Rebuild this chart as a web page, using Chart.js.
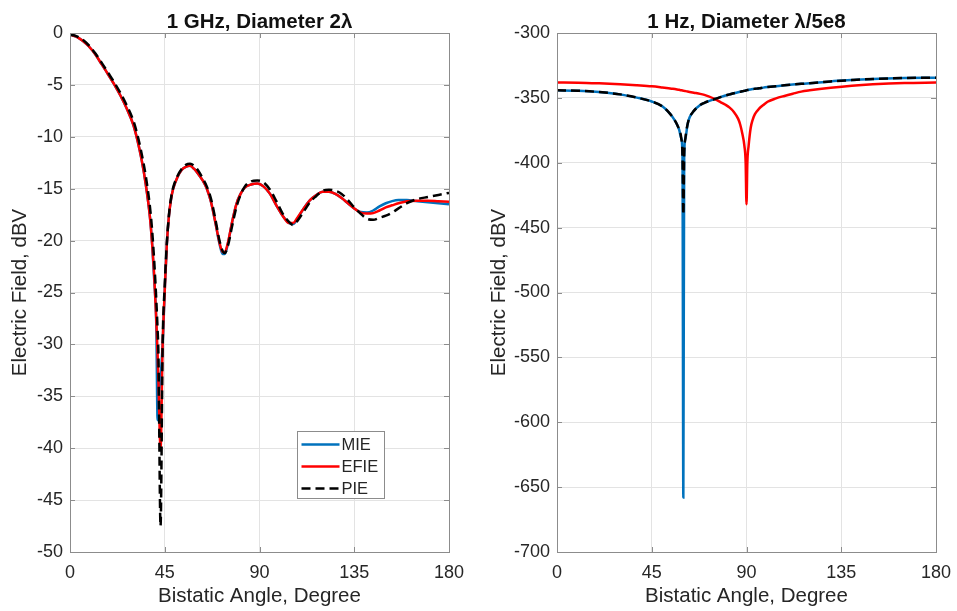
<!DOCTYPE html>
<html>
<head>
<meta charset="utf-8">
<script src="https://cdn.jsdelivr.net/npm/chart.js@4.4.1/dist/chart.umd.min.js"></script>
<style>
  html, body { margin: 0; padding: 0; background: #fff; }
  #wrap { position: relative; width: 957px; height: 611px; }
  #leftBox { position: absolute; left: 0; top: 0; width: 478px; height: 611px; }
  #rightBox { position: absolute; left: 479px; top: 0; width: 478px; height: 611px; }
</style>
</head>
<body>
<div id="wrap">
  <div id="leftBox"><canvas id="chartLeft" width="478" height="611"></canvas></div>
  <div id="rightBox"><canvas id="chartRight" width="478" height="611"></canvas></div>
</div>
<script>
// 1 GHz sphere, diameter 2 lambda
const angleLeft = [0, 3, 6, 9, 12, 15, 18, 21, 24, 27, 30, 32, 34, 36, 38, 39, 40, 41, 41.6, 42, 43, 44, 45, 46, 47, 48, 49, 51, 53, 55, 57, 59, 61, 63, 65, 67, 69, 71, 72.5, 73.5, 75, 77, 79, 81, 83, 86, 89, 92, 95, 98, 101, 104, 106, 108, 111, 114, 117, 120, 123, 126, 129, 132, 135, 138, 141, 144, 147, 150, 153, 156, 160, 165, 170, 175, 180];
const mieLeft = [-0.15, -0.35, -0.75, -1.3, -2.05, -3.0, -3.95, -4.95, -6.05, -7.3, -8.8, -10.3, -12.2, -14.6, -17.8, -20.3, -23.8, -28.3, -37.3, -35.2, -33.2, -30.0, -24.8, -20.3, -17.6, -16.0, -15.0, -13.9, -13.2, -12.9, -12.8, -13.1, -13.6, -14.2, -15.0, -16.3, -18.2, -20.3, -21.3, -21.3, -20.3, -18.2, -16.5, -15.5, -14.9, -14.6, -14.5, -14.8, -15.5, -16.6, -17.6, -18.3, -18.4, -17.9, -16.9, -16.1, -15.6, -15.3, -15.3, -15.5, -15.9, -16.4, -16.9, -17.25, -17.3, -17.1, -16.7, -16.4, -16.2, -16.1, -16.1, -16.2, -16.3, -16.4, -16.5];
const efieLeft = [-0.15, -0.35, -0.75, -1.3, -2.05, -3.0, -3.95, -4.95, -6.05, -7.3, -8.8, -10.3, -12.2, -14.6, -17.8, -20.3, -23.4, -27.7, -30.9, -33.5, -40.1, -30.0, -24.8, -20.3, -17.6, -16.0, -15.0, -13.9, -13.2, -12.9, -12.8, -13.1, -13.6, -14.2, -15.0, -16.3, -18.2, -20.2, -21.1, -21.1, -20.2, -18.2, -16.5, -15.5, -14.9, -14.6, -14.5, -14.8, -15.5, -16.6, -17.6, -18.3, -18.3, -17.8, -16.9, -16.1, -15.6, -15.3, -15.3, -15.5, -15.9, -16.4, -16.9, -17.3, -17.4, -17.35, -17.1, -16.8, -16.6, -16.4, -16.2, -16.15, -16.15, -16.2, -16.25];
const pieLeft = [-0.15, -0.3, -0.65, -1.2, -1.95, -2.85, -3.8, -4.75, -5.8, -7.0, -8.4, -9.8, -11.6, -13.8, -16.8, -19.0, -22.0, -25.8, -28.6, -31.0, -47.5, -30.0, -24.3, -20.2, -17.5, -15.9, -14.9, -13.8, -13.1, -12.7, -12.6, -12.8, -13.3, -14.0, -14.8, -16.0, -17.9, -20.0, -21.0, -21.2, -20.5, -18.6, -16.8, -15.6, -14.8, -14.3, -14.2, -14.4, -15.1, -16.2, -17.4, -18.2, -18.5, -18.1, -17.2, -16.3, -15.7, -15.2, -15.1, -15.2, -15.5, -16.1, -16.8, -17.4, -17.9, -18.0, -17.8, -17.6, -17.3, -16.9, -16.4, -16.0, -15.8, -15.6, -15.4];

// 1 Hz sphere, diameter lambda/5e8
const angleRight = [0, 10, 20, 30, 38, 45, 50, 53, 55, 57, 58, 59, 59.6, 60, 60.4, 61, 62, 63, 65, 68, 70, 72, 75, 78, 80, 82, 84, 86, 87, 88, 89, 89.6, 90, 90.4, 91, 92, 93, 94, 96, 98, 100, 104, 108, 112, 116, 120, 130, 140, 150, 165, 180];
const mieRight = [-344.2, -344.5, -345.5, -347.3, -349.8, -352.8, -356.5, -361.0, -365.0, -370.5, -374.5, -381.0, -395.0, -658.0, -395.0, -381.0, -370.5, -365.0, -360.0, -355.5, -353.8, -352.5, -350.9, -349.2, -348.2, -347.3, -346.4, -345.6, -345.3, -344.9, -344.6, -344.4, -344.1, -344.0, -343.8, -343.5, -343.2, -343.0, -342.6, -342.1, -341.7, -341.0, -340.3, -339.7, -339.2, -338.7, -337.3, -336.3, -335.4, -334.7, -334.4];
const efieRight = [-338.2, -338.3, -338.8, -339.5, -340.3, -341.1, -342.0, -342.6, -343.0, -343.5, -343.8, -344.1, -344.3, -344.5, -344.6, -344.8, -345.1, -345.4, -346.0, -346.9, -347.7, -348.8, -350.9, -353.6, -355.3, -357.5, -360.8, -366.0, -370.5, -377.5, -387.0, -400.0, -432.0, -400.0, -387.0, -373.0, -366.5, -362.5, -358.3, -355.5, -353.0, -350.4, -348.5, -346.8, -345.2, -344.2, -342.2, -340.6, -339.5, -338.5, -338.2];
const pieRight = [-344.2, -344.5, -345.5, -347.3, -349.8, -352.8, -356.5, -361.0, -365.0, -370.5, -374.5, -381.0, -395.0, -440.0, -395.0, -381.0, -370.5, -365.0, -360.0, -355.5, -353.8, -352.5, -350.9, -349.2, -348.2, -347.3, -346.4, -345.6, -345.3, -344.9, -344.6, -344.4, -344.1, -344.0, -343.8, -343.5, -343.2, -343.0, -342.6, -342.1, -341.7, -341.0, -340.3, -339.7, -339.2, -338.7, -337.3, -336.3, -335.4, -334.7, -334.4];

const angleTicks = [0, 45, 90, 135, 180];
const seriesNames = ["MIE", "EFIE", "PIE"];
const seriesColors = ["#0072BD", "#FF0000", "#000000"];

const FONT = "'Liberation Sans', Arial, Helvetica, sans-serif";
const TEXT = "#262626";
const AXIS = "#8c8c8c";
const GRID = "#e3e3e3";

function toPoints(xs, ys) {
  return xs.map((x, i) => ({ x: x, y: ys[i] }));
}

// box, inward ticks, title and the inset legend, drawn over the plot area
const framePlugin = {
  id: "frame",
  afterDatasetsDraw(chart, args, opts) {
    const { ctx, chartArea: a, scales } = chart;
    ctx.save();

    ctx.strokeStyle = AXIS;
    ctx.lineWidth = 1;
    ctx.strokeRect(Math.round(a.left) + 0.5, Math.round(a.top) + 0.5,
      Math.round(a.right - a.left), Math.round(a.bottom - a.top));

    // MATLAB-style ticks pointing into the axes
    const tl = 5;
    ctx.beginPath();
    scales.x.ticks.forEach((t) => {
      const px = Math.round(scales.x.getPixelForValue(t.value)) + 0.5;
      ctx.moveTo(px, a.bottom); ctx.lineTo(px, a.bottom - tl);
      ctx.moveTo(px, a.top); ctx.lineTo(px, a.top + tl);
    });
    scales.y.ticks.forEach((t) => {
      const py = Math.round(scales.y.getPixelForValue(t.value)) + 0.5;
      ctx.moveTo(a.left, py); ctx.lineTo(a.left + tl, py);
      ctx.moveTo(a.right, py); ctx.lineTo(a.right - tl, py);
    });
    ctx.stroke();

    ctx.fillStyle = "#111";
    ctx.font = "bold 20.5px " + FONT;
    ctx.textAlign = "center";
    ctx.textBaseline = "alphabetic";
    ctx.fillText(opts.title, (a.left + a.right) / 2, 28);

    if (opts.legend) {
      const bx = a.right - 151.5, by = a.bottom - 120.5, bw = 87, bh = 67;
      ctx.fillStyle = "#fff";
      ctx.fillRect(bx, by, bw, bh);
      ctx.strokeStyle = "#8c8c8c";
      ctx.strokeRect(bx, by, bw, bh);
      ctx.font = "16.5px " + FONT;
      ctx.textAlign = "left";
      ctx.textBaseline = "middle";
      chart.data.datasets.forEach((ds, i) => {
        const ry = by + 13 + i * 22;
        ctx.strokeStyle = ds.borderColor;
        ctx.lineWidth = 2.5;
        ctx.setLineDash(ds.borderDash || []);
        ctx.beginPath();
        ctx.moveTo(bx + 4, ry);
        ctx.lineTo(bx + 42, ry);
        ctx.stroke();
        ctx.setLineDash([]);
        ctx.fillStyle = TEXT;
        ctx.fillText(ds.label, bx + 44, ry + 1);
      });
    }
    ctx.restore();
  },
};

function makeChart(id, cfg) {
  const datasets = [cfg.mie, cfg.efie, cfg.pie].map((vals, i) => ({
    label: seriesNames[i],
    data: toPoints(cfg.angle, vals),
    borderColor: seriesColors[i],
    backgroundColor: seriesColors[i],
    borderWidth: 2.5,
    borderDash: i === 2 ? [9, 5] : [],
    pointRadius: 0,
    fill: false,
    cubicInterpolationMode: "monotone",
    order: 3 - i, // PIE on top, then EFIE, then MIE
  }));

  return new Chart(document.getElementById(id).getContext("2d"), {
    type: "line",
    data: { datasets: datasets },
    plugins: [framePlugin],
    options: {
      responsive: false,
      animation: false,
      events: [],
      layout: { padding: { left: 0, right: cfg.padRight, top: 33, bottom: 0 } },
      plugins: {
        legend: { display: false },
        tooltip: { enabled: false },
        frame: { title: cfg.title, legend: cfg.legend },
      },
      scales: {
        x: {
          type: "linear",
          min: 0,
          max: 180,
          afterBuildTicks: (scale) => {
            scale.ticks = angleTicks.map((v) => ({ value: v }));
          },
          afterFit: (scale) => {
            scale.height = 59;
            // keep the end labels from pushing the plot area inward
            scale.paddingLeft = 0;
            scale.paddingRight = 0;
          },
          grid: { color: GRID, lineWidth: 1, drawTicks: false },
          border: { display: false },
          ticks: { color: TEXT, padding: 10, font: { family: FONT, size: 18 }, maxRotation: 0 },
          title: {
            display: true,
            text: "Bistatic Angle, Degree",
            color: TEXT,
            font: { family: FONT, size: 20.5 },
            padding: { top: 0, bottom: 2 },
          },
        },
        y: {
          type: "linear",
          min: cfg.yMin,
          max: cfg.yMax,
          ticks: { stepSize: cfg.yStep, color: TEXT, padding: 7, font: { family: FONT, size: 18 } },
          afterFit: (scale) => { scale.width = cfg.yWidth; },
          grid: { color: GRID, lineWidth: 1, drawTicks: false },
          border: { display: false },
          title: {
            display: true,
            text: "Electric Field, dBV",
            color: TEXT,
            font: { family: FONT, size: 20.5 },
            padding: { top: 8, bottom: 0 },
          },
        },
      },
    },
  });
}

makeChart("chartLeft", {
  title: "1 GHz, Diameter 2λ",
  angle: angleLeft, mie: mieLeft, efie: efieLeft, pie: pieLeft,
  yMin: -50, yMax: 0, yStep: 5, yWidth: 70, padRight: 29, legend: true,
});

makeChart("chartRight", {
  title: "1 Hz, Diameter λ/5e8",
  angle: angleRight, mie: mieRight, efie: efieRight, pie: pieRight,
  yMin: -700, yMax: -300, yStep: 50, yWidth: 78, padRight: 21, legend: false,
});
</script>
</body>
</html>
